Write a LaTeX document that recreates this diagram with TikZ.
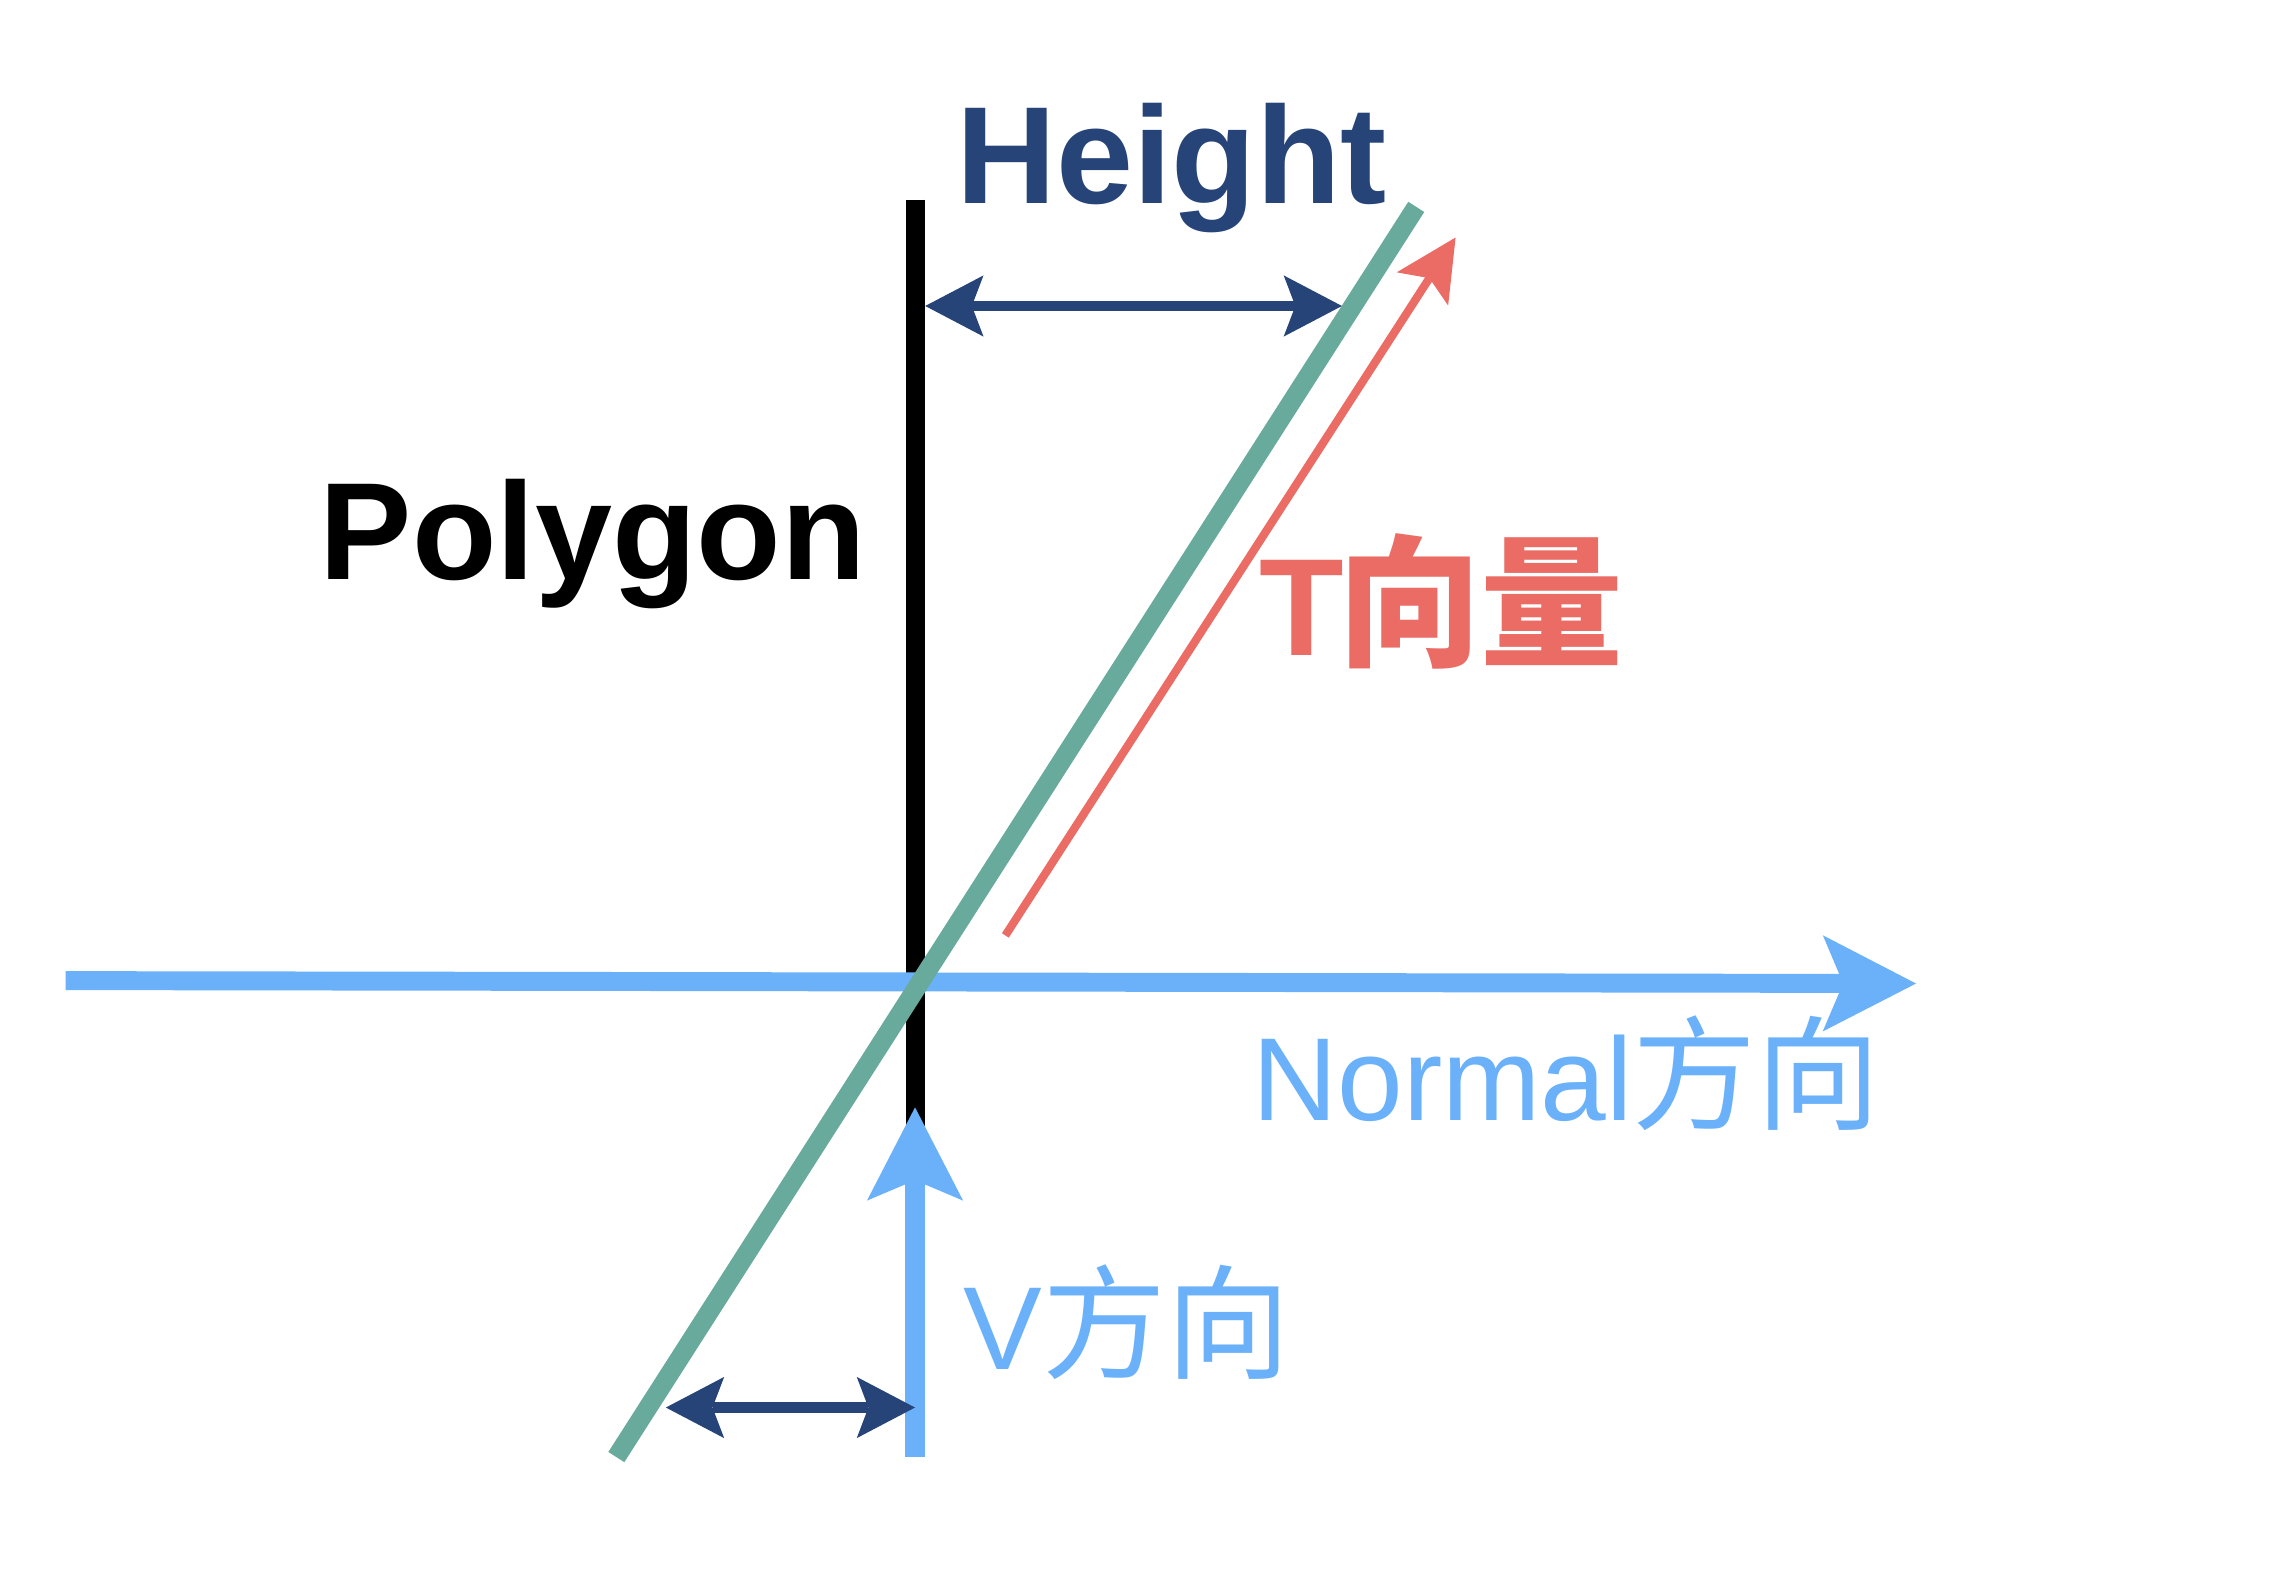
\documentclass[tikz,border=0pt]{standalone}
\usepackage{fontspec}
\setmainfont{Liberation Sans}
\newfontfamily\cjk{Noto Sans CJK SC}
\usetikzlibrary{arrows.meta}
\definecolor{navy}{RGB}{38,68,120}
\definecolor{lblue}{RGB}{106,177,250}
\definecolor{tealg}{RGB}{104,170,156}
\definecolor{tred}{RGB}{234,108,101}
\begin{document}
\begin{tikzpicture}[x=0.5pt,y=-0.5pt,
  thickline/.style={line width=6.5pt},
  bighead/.style={-{Stealth[length=32pt,width=33pt,inset=7pt,line width=0pt]}},
  dimarrow/.style={navy,line width=3.5pt,
    {Stealth[length=20pt,width=21pt,inset=4pt,line width=0pt]}-{Stealth[length=20pt,width=21pt,inset=4pt,line width=0pt]}},
  redarrow/.style={tred,line width=2.8pt,-{Stealth[length=21pt,width=21pt,inset=4.4pt,line width=0pt]}},
  lbl/.style={inner sep=0pt,anchor=base west}]
\useasboundingbox (0,0) rectangle (1560,1077);
\fill[white] (0,0) rectangle (1560,1077);
% coordinates
\coordinate (polytop) at (628,137);
\coordinate (polybot) at (628,1000);
\coordinate (nstart) at (45,673);
\coordinate (nend) at (1315,675);
\coordinate (vstart) at (628,1000);
\coordinate (vend) at (628,760);
\coordinate (gbot) at (423,1000);
\coordinate (gtop) at (972,142);
\coordinate (tstart) at (690,642);
\coordinate (tend) at (999,163);
\coordinate (hl) at (635,210);
\coordinate (hr) at (921,210);
\coordinate (bl) at (457,966);
\coordinate (br) at (628,966);
% polygon edge
\draw[thickline,black] (polytop) -- (polybot);
% normal direction
\draw[thickline,lblue,bighead] (nstart) -- (nend);
% V direction
\draw[line width=7pt,lblue,bighead] (vstart) -- (vend);
% tangent/green line
\draw[thickline,tealg] (gbot) -- (gtop);
% T vector
\draw[redarrow] (tstart) -- (tend);
% dimension arrows
\draw[dimarrow] (hl) -- (hr);
\draw[dimarrow] (bl) -- (br);
% labels
\node[lbl,navy,font=\fontsize{47.5}{50}\selectfont\bfseries] (height) at (656,140) {Height};
\node[lbl,black,font=\fontsize{47.5}{50}\selectfont\bfseries] (polygon) at (219,398) {Polygon};
\node[lbl,tred,font=\fontsize{47.5}{50}\selectfont\bfseries] (tvec) at (864,450) {T\hspace{-2pt}{\cjk\fontsize{49}{50}\selectfont 向量}};
\node[lbl,lblue,font=\fontsize{40.5}{44}\selectfont] (normal) at (859,769) {Normal{\cjk\fontsize{42.5}{44}\selectfont 方向}};
\node[lbl,lblue,font=\fontsize{40.5}{44}\selectfont] (vdir) at (661,940) {V{\cjk\fontsize{42.5}{44}\selectfont 方向}};
\end{tikzpicture}
\end{document}
